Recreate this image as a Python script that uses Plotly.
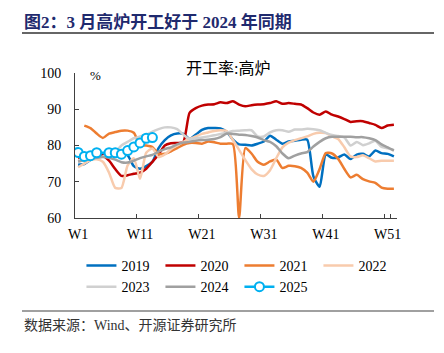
import plotly.graph_objects as go

weeks = [f"W{i}" for i in range(1, 53)]
tick_labels = ["W1", "W11", "W21", "W31", "W41", "W51"]
y_ticks = [60, 70, 80, 90, 100]

s2019 = [74.7, 74.9, 76.0, 76.8, 77.5, 77.7, 77.8, 77.8, 77.3, 74.3, 73.6, 74.3, 75.5, 79.3, 81.5, 82.8, 83.3, 83.2, 81.8, 83.0,
         84.3, 84.8, 84.8, 84.7, 83.8, 81.6, 80.3, 80.2, 80.0, 80.5, 81.1, 82.7, 81.6, 80.5, 81.1, 81.3, 81.6, 81.6, 71.5, 68.6,
         77.5, 76.6, 76.7, 77.5, 76.3, 77.5, 77.7, 77.0, 78.6, 77.9, 77.7, 77.0]
s2020 = [76.5, 77.0, 77.2, 77.5, 77.2, 75.8, 73.5, 71.6, 71.8, 72.2, 72.5, 73.6, 75.5, 77.5, 80.0, 80.6, 80.7, 81.0, 89.0, 90.3,
         91.0, 91.3, 91.4, 91.9, 91.7, 92.2, 91.3, 90.8, 91.1, 91.3, 91.4, 91.7, 92.2, 91.5, 91.7, 91.5, 91.3, 90.3, 89.1, 88.5,
         89.4, 88.5, 88.0, 87.3, 86.5, 86.7, 86.7, 86.2, 85.7, 84.8, 85.5, 85.7]
s2021 = [None, 85.5, 84.8, 83.3, 82.1, 83.3, 83.7, 84.1, 84.1, 83.5, 80.1, 80.0, 79.6, 77.7, 77.7, 78.4, 79.3, 80.2, 80.7, 80.7,
         80.5, 81.1, 80.9, 80.5, 80.5, 80.4, 60.0, 79.3, 77.8, 75.5, 74.7, 75.6, 76.1, 73.8, 74.4, 74.3, 73.8, 72.5, 70.0, 73.5,
         77.9, 77.8, 76.3, 73.5, 71.2, 71.9, 70.7, 70.1, 69.7, 68.4, 68.1, 68.1]
s2022 = [74.0, 75.0, 76.0, 76.2, 75.5, 72.5, 68.3, 68.3, 74.5, 76.5, 70.8, 78.0, 79.2, 76.8, 77.5, 79.0, 80.0, 81.0, 81.8, 82.5,
         83.2, 83.6, 84.0, 84.2, 84.0, 81.5, 78.8, 76.0, 73.5, 72.0, 71.6, 73.2, 76.5, 79.5, 80.8, 81.5, 82.0, 82.5, 83.2, 83.5,
         83.4, 82.5, 81.8, 79.5, 77.0, 76.8, 77.3, 76.5, 75.6, 75.8, 75.8, 75.8]
s2023 = [75.5, 76.0, 76.3, 76.5, 77.0, 77.5, 78.2, 80.0, 81.0, 82.0, 82.5, 83.0, 83.8, 84.5, 85.0, 85.0, 84.5, 83.0, 81.8, 82.0,
         82.2, 82.5, 82.8, 83.2, 83.5, 84.0, 84.1, 84.2, 84.2, 82.5, 82.5, 83.6, 84.2, 84.2, 83.8, 84.4, 84.4, 84.6, 84.5, 84.2,
         83.5, 82.9, 82.6, 82.2, 80.0, 81.0, 80.1, 80.6, 81.3, 79.6, 79.2, 78.8]
s2024 = [75.6, 76.0, 76.3, 76.6, 76.8, 76.6, 76.1, 75.4, 75.3, 75.8, 76.5, 77.0, 77.4, 78.3, 79.0, 79.5, 80.3, 80.8, 81.0, 81.3,
         81.5, 81.6, 81.8, 82.3, 83.3, 83.2, 83.0, 82.9, 82.6, 82.2, 81.5, 81.0, 79.8, 77.8, 76.5, 77.2, 77.8, 78.2, 79.7, 81.0,
         82.0, 82.4, 82.4, 82.4, 82.4, 82.3, 82.3, 82.0, 81.5, 80.3, 79.5, 78.6]
s2025 = [78.1, 77.0, 77.2, 78.0, None, 78.0, 78.0, 77.6, 78.6, 79.6, 80.7, 82.0, 82.2]

series = [
    ("2019", s2019, "#0070C0"),
    ("2020", s2020, "#C00000"),
    ("2021", s2021, "#ED7D31"),
    ("2022", s2022, "#F8CBAD"),
    ("2023", s2023, "#D0D0D0"),
    ("2024", s2024, "#A0A0A0"),
]

fig = go.Figure()
for name, vals, col in series:
    fig.add_trace(go.Scatter(
        x=weeks[:len(vals)], y=vals, name=name, mode="lines",
        line=dict(color=col, width=2.5, shape="spline", smoothing=0.6),
        connectgaps=True,
    ))
fig.add_trace(go.Scatter(
    x=weeks[:len(s2025)], y=s2025, name="2025", mode="lines+markers",
    line=dict(color="#00B0F0", width=2.5),
    marker=dict(symbol="circle", size=9, color="white", line=dict(color="#00B0F0", width=2)),
    connectgaps=True,
))

serif = "Liberation Serif, 'Noto Sans CJK SC', serif"

fig.update_layout(
    width=444, height=353,
    margin=dict(l=75, r=47, t=73, b=135),
    paper_bgcolor="white", plot_bgcolor="white",
    font=dict(family=serif, size=13, color="#000000"),
    showlegend=True,
    legend=dict(
        orientation="h", x=0.02, y=-0.22, xanchor="left", yanchor="top",
        entrywidth=34, entrywidthmode="pixels",
        font=dict(family=serif, size=14, color="#000000"),
        tracegroupgap=0, itemwidth=30,
    ),
    xaxis=dict(
        type="category", categoryorder="array", categoryarray=weeks,
        tickvals=tick_labels, ticktext=tick_labels, tickson="boundaries",
        ticks="inside", ticklen=4, tickcolor="#404040", tickangle=0,
        showline=True, linecolor="#404040", linewidth=1,
        showgrid=False, zeroline=False,
        range=[-0.5, 51.5],
        tickfont=dict(family=serif, size=14, color="#000000"),
        ticklabelstandoff=3,
    ),
    yaxis=dict(
        range=[60, 100], tickvals=y_ticks,
        ticks="inside", ticklen=4, tickcolor="#404040",
        showline=True, linecolor="#404040", linewidth=1,
        showgrid=False, zeroline=False,
        tickfont=dict(family=serif, size=14, color="#000000"),
        ticklabelstandoff=10,
    ),
    shapes=[
        dict(type="line", xref="paper", yref="paper", x0=-0.1646, x1=1.115, y0=1.276, y1=1.276,
             line=dict(color="#333333", width=1.5)),
        dict(type="line", xref="paper", yref="paper", x0=-0.1646, x1=1.115, y0=-0.641, y1=-0.641,
             line=dict(color="#808080", width=1.5)),
    ],
    annotations=[
        dict(text="<b>图2：3 月高炉开工好于 2024 年同期</b>", xref="paper", yref="paper",
             x=-0.1646, y=1.352, xanchor="left", yanchor="middle", showarrow=False,
             font=dict(family=serif, size=17, color="#1F2A6E")),
        dict(text="开工率:高炉", xref="paper", yref="paper", x=0.475, y=1.034,
             xanchor="center", yanchor="middle", showarrow=False,
             font=dict(family=serif, size=16, color="#000000")),
        dict(text="%", xref="paper", yref="paper", x=0.065, y=0.986,
             xanchor="center", yanchor="middle", showarrow=False,
             font=dict(family=serif, size=13, color="#000000")),
        dict(text="数据来源：Wind、开源证券研究所", xref="paper", yref="paper",
             x=-0.1646, y=-0.738, xanchor="left", yanchor="middle", showarrow=False,
             font=dict(family=serif, size=14, color="#333333")),
    ],
)

fig.write_html("out.html")
